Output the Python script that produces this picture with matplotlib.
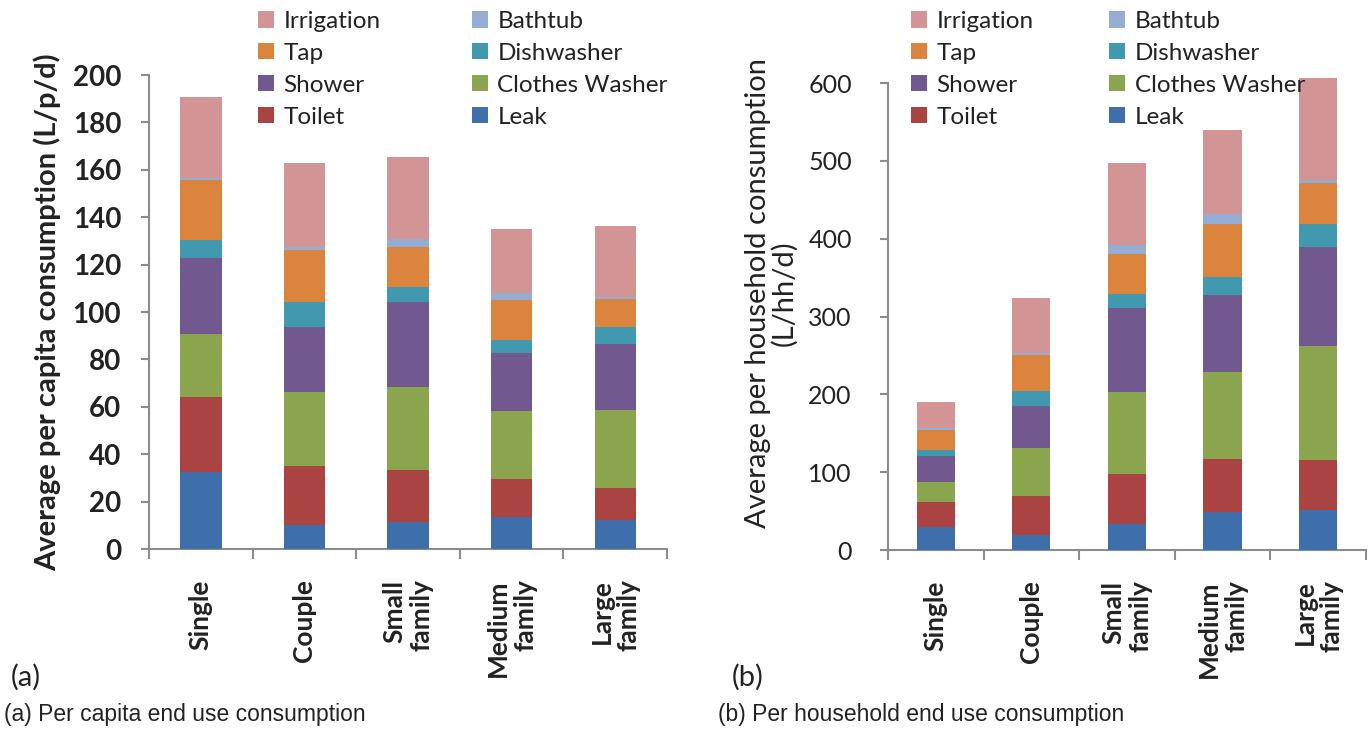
import numpy as np
import matplotlib
matplotlib.use('Agg')
import matplotlib.pyplot as plt

plt.rcParams['font.family'] = ['Lato', 'DejaVu Sans']

categories = ['Single', 'Couple', 'Small\nfamily', 'Medium\nfamily', 'Large\nfamily']

# stacked bottom -> top
end_uses = ['Leak', 'Toilet', 'Clothes Washer', 'Shower', 'Dishwasher', 'Tap', 'Bathtub', 'Irrigation']
colors = ['#3F6FAA', '#AA4442', '#8AA54D', '#71588F', '#4199B0', '#DB843D', '#95ACD3', '#D29494']

# (a) per capita, L/p/d
leak_pc = [32.6, 10.1, 11.6, 13.3, 12.1]
toilet_pc = [31.5, 25.0, 21.8, 16.3, 13.7]
washer_pc = [26.8, 31.1, 35.0, 28.5, 32.8]
shower_pc = [32.0, 27.4, 36.0, 24.6, 28.0]
dish_pc = [7.3, 10.6, 6.0, 5.4, 7.0]
tap_pc = [25.4, 21.8, 17.0, 17.0, 12.1]
bath_pc = [0.8, 1.4, 3.5, 3.0, 0.6]
irrig_pc = [34.4, 35.5, 34.7, 27.1, 30.0]

# (b) per household, L/hh/d
leak_hh = [30.0, 19.3, 33.0, 49.3, 51.4]
toilet_hh = [32.1, 50.1, 64.3, 67.7, 64.3]
washer_hh = [25.7, 61.3, 106.2, 111.4, 146.6]
shower_hh = [33.1, 54.9, 108.1, 99.5, 126.4]
dish_hh = [7.7, 18.8, 17.1, 23.5, 30.0]
tap_hh = [25.7, 46.3, 51.5, 67.3, 52.8]
bath_hh = [2.1, 2.2, 11.1, 13.3, 3.3]
irrig_hh = [34.3, 71.5, 105.9, 107.1, 131.6]

per_capita = [leak_pc, toilet_pc, washer_pc, shower_pc, dish_pc, tap_pc, bath_pc, irrig_pc]
per_household = [leak_hh, toilet_hh, washer_hh, shower_hh, dish_hh, tap_hh, bath_hh, irrig_hh]

fig = plt.figure(figsize=(13.72, 7.29), dpi=100)
ax_a = fig.add_axes([0.1086, 0.2469, 0.3776, 0.6502])
ax_b = fig.add_axes([0.6472, 0.2455, 0.3484, 0.6406])

grey = '#8C8C8C'
text_col = '#222222'


def draw_panel(ax, series, ymax, ystep, bold_ticks):
    x = np.arange(len(categories))
    bottom = np.zeros(len(categories))
    handles = {}
    for name, vals, c in zip(end_uses, series, colors):
        b = ax.bar(x, vals, 0.4, bottom=bottom, color=c, clip_on=False, zorder=3)
        handles[name] = b
        bottom += np.array(vals)
    ax.set_xlim(-0.5, len(categories) - 0.5)
    ax.set_ylim(0, ymax)
    ax.set_yticks(np.arange(0, ymax + 1, ystep))
    ax.set_xticks(x)
    ax.set_xticks(np.arange(-0.5, len(categories), 1.0), minor=True)
    ax.set_xticklabels(categories, rotation=90, va='top', ha='center',
                       multialignment='right', fontweight='bold',
                       fontsize=19, color=text_col, linespacing=1.15)
    ax.tick_params(axis='x', which='major', length=0, pad=22)
    ax.tick_params(axis='x', which='minor', length=7, width=1.5, color=grey, direction='out')
    ax.tick_params(axis='y', length=6, width=1.5, color=grey, direction='out',
                   labelcolor=text_col)
    for lab in ax.get_yticklabels():
        lab.set_fontweight('bold' if bold_ticks else 'normal')
    for s in ['top', 'right']:
        ax.spines[s].set_visible(False)
    for s in ['left', 'bottom']:
        ax.spines[s].set_color(grey)
        ax.spines[s].set_linewidth(1.5)
    return handles


h_a = draw_panel(ax_a, per_capita, 200, 20, True)
ax_a.tick_params(axis='y', labelsize=20, pad=14)
ax_a.set_ylabel('Average per capita consumption (L/p/d)', fontsize=21,
                fontweight='bold', color=text_col, labelpad=8)

h_b = draw_panel(ax_b, per_household, 600, 100, False)
ax_b.tick_params(axis='y', labelsize=18, pad=20)
ax_b.set_ylabel('Average per household consumption\n(L/hh/d)', fontsize=21,
                color=text_col, linespacing=0.95)
ax_b.yaxis.set_label_coords(-0.19, 0.55)

legend_order = ['Irrigation', 'Tap', 'Shower', 'Toilet', 'Bathtub', 'Dishwasher', 'Clothes Washer', 'Leak']
for ax, h, x0, cs in [(ax_a, h_a, 0.188, 3.76), (ax_b, h_b, 0.664, 3.1)]:
    ax.legend([h[n] for n in legend_order], legend_order, ncol=2, frameon=False,
              loc='upper left', bbox_to_anchor=(x0, 0.985), bbox_transform=fig.transFigure,
              fontsize=17.5, handlelength=0.65, handleheight=0.65, handletextpad=0.4,
              labelspacing=0.45, columnspacing=cs, borderpad=0, borderaxespad=0,
              labelcolor=text_col)

fig.text(0.008, 0.052, '(a)', fontsize=21, color=text_col, ha='left', va='bottom')
fig.text(0.533, 0.052, '(b)', fontsize=21, color=text_col, ha='left', va='bottom')

fig.text(0.003, 0.004, '(a) Per capita end use consumption', fontsize=16.5,
         family='Liberation Sans', color=text_col, ha='left', va='bottom')
fig.text(0.523, 0.004, '(b) Per household end use consumption', fontsize=16.5,
         family='Liberation Sans', color=text_col, ha='left', va='bottom')

fig.savefig('out.png', dpi=100)
